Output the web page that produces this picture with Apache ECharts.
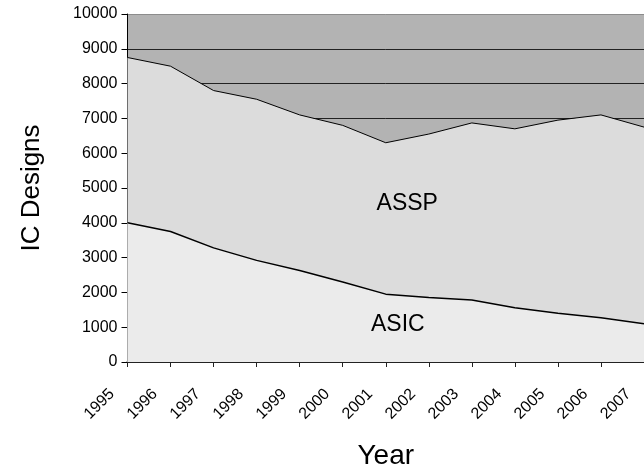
<!DOCTYPE html>
<html>
<head>
<meta charset="utf-8">
<script src="https://cdn.jsdelivr.net/npm/echarts@6/dist/echarts.min.js"></script>
<style>
  html, body { margin: 0; padding: 0; background: #ffffff; }
  #chart { width: 644px; height: 475px; }
</style>
</head>
<body>
<div id="chart"></div>
<script>
// Years on the horizontal axis
const years = [1995, 1996, 1997, 1998, 1999, 2000, 2001, 2002, 2003, 2004, 2005, 2006, 2007];
// ASIC designs per year
const asic = [4000, 3750, 3280, 2920, 2630, 2300, 1950, 1850, 1780, 1560, 1400, 1270, 1100];
// ASSP designs per year (stacked above ASIC)
const assp = [4750, 4750, 4520, 4630, 4470, 4500, 4350, 4700, 5090, 5140, 5550, 5830, 5650];
// Top edge of the stack: ASIC + ASSP
const total = asic.map((a, i) => a + assp[i]);

// Area label anchors (year, value)
const asspLabelAt = [2001.5, 4540];
const asicLabelAt = [2001.28, 1060];

const font = '"Liberation Sans", Arial, Helvetica, sans-serif';
const chart = echarts.init(document.getElementById('chart'), null, { renderer: 'canvas' });

chart.setOption({
  animation: false,
  backgroundColor: '#ffffff',
  textStyle: { fontFamily: font },
  grid: {
    left: 127.5, top: 14, right: -8, bottom: 111.5,
    show: true, backgroundColor: '#b3b3b3', borderWidth: 0
  },
  xAxis: {
    type: 'value',
    min: years[0], max: years[years.length - 1], interval: 1,
    name: 'Year', nameLocation: 'middle', nameGap: 80,
    nameTextStyle: { fontSize: 28, color: '#000', fontFamily: font },
    axisLine: { show: true, lineStyle: { color: '#222', width: 2 } },
    axisTick: { show: true, length: 5, lineStyle: { color: '#222', width: 1 } },
    splitLine: { show: false },
    axisLabel: {
      rotate: 45, margin: 14, fontSize: 16, color: '#000', fontFamily: font,
      padding: [0, 22, 0, 0],
      formatter: v => String(v)
    }
  },
  yAxis: {
    type: 'value', min: 0, max: 10000, interval: 1000,
    name: 'IC Designs', nameLocation: 'middle', nameGap: 83, nameRotate: 90,
    nameTextStyle: { fontSize: 26, color: '#000', fontFamily: font },
    axisLine: { show: true, lineStyle: { color: '#000', width: 1 } },
    axisTick: { show: true, length: 6, lineStyle: { color: '#000' } },
    axisLabel: { fontSize: 16, color: '#000', margin: 10, fontFamily: font, formatter: v => String(v) },
    splitLine: {
      show: true,
      lineStyle: {
        width: 1,
        color: ['#222', '#222', '#222', '#222', '#222', '#222', '#222', '#222', '#222', '#222', '#8c8c8c']
      }
    }
  },
  series: [
    {
      name: 'ASSP', type: 'line', symbol: 'none', z: 2,
      data: years.map((y, i) => [y, total[i]]),
      lineStyle: { color: '#000', width: 1 },
      areaStyle: { color: '#dcdcdc', opacity: 1 },
      markPoint: {
        symbolSize: 0,
        label: { show: true, position: 'inside', formatter: 'ASSP', fontSize: 23, color: '#000', fontFamily: font },
        data: [{ coord: asspLabelAt }]
      }
    },
    {
      name: 'ASIC', type: 'line', symbol: 'none', z: 3,
      data: years.map((y, i) => [y, asic[i]]),
      lineStyle: { color: '#000', width: 1.5 },
      areaStyle: { color: '#ebebeb', opacity: 1 },
      markPoint: {
        symbolSize: 0,
        label: { show: true, position: 'inside', formatter: 'ASIC', fontSize: 23, color: '#000', fontFamily: font },
        data: [{ coord: asicLabelAt }]
      }
    }
  ]
});
</script>
</body>
</html>
